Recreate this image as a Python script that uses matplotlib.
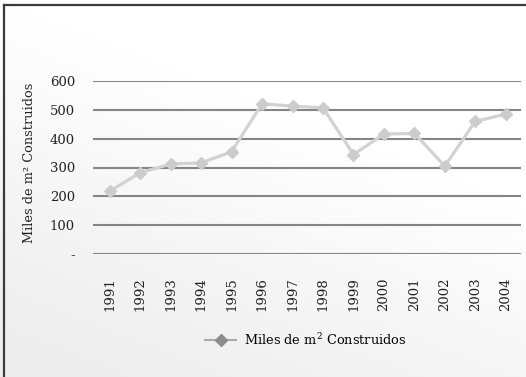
import numpy as np
import matplotlib
matplotlib.use("Agg")
import matplotlib.pyplot as plt
from matplotlib.lines import Line2D

# Superficie construida por año (miles de m2)
years = ["1991", "1992", "1993", "1994", "1995", "1996", "1997",
         "1998", "1999", "2000", "2001", "2002", "2003", "2004"]
built_area = [218, 282, 312, 316, 355, 521, 513, 507, 345, 416, 418, 305, 460, 485]
y_ticks = [0, 100, 200, 300, 400, 500, 600]
y_tick_labels = ["-", "100", "200", "300", "400", "500", "600"]
series_label = "Miles de m$^{2}$ Construidos"
axis_label = "Miles de m² Construidos"

plt.rcParams["font.family"] = ["DejaVu Serif"]
plt.rcParams["mathtext.fontset"] = "dejavuserif"

W, H = 526, 377
fig = plt.figure(figsize=(W / 100, H / 100), dpi=100)

# soft background shading, darker towards the lower left
gx, gy = np.meshgrid(np.linspace(0, 1, W), np.linspace(0, 1, H))
shade = 1.0 - 0.07 * np.clip(gy * 1.1 - gx * 0.6, 0, 1)
fig.figimage(np.dstack([shade] * 3), xo=0, yo=0, origin="upper", zorder=-10)

# frame: only the left and top edges are inside the image
fx, fy = 4 / W, 1 - 5 / H
fig.add_artist(Line2D([fx, fx], [0, fy], transform=fig.transFigure,
                      color="#3a3a3a", linewidth=1.6, solid_capstyle="projecting"))
fig.add_artist(Line2D([fx, 1], [fy, fy], transform=fig.transFigure,
                      color="#3a3a3a", linewidth=1.6, solid_capstyle="projecting"))

ax = fig.add_axes([93 / W, 1 - 254 / H, 428 / W, 173 / H])
ax.patch.set_alpha(0)
x = np.arange(len(years))
ax.plot(x, built_area, color="#d2d2d2", linewidth=2.3, marker="D",
        markersize=6.5, markerfacecolor="#cccccc", markeredgecolor="#cccccc",
        zorder=3, clip_on=False)

ax.set_xlim(-0.55, len(years) - 0.5)
ax.set_ylim(0, 600)
ax.set_yticks(y_ticks)
ax.set_yticklabels(y_tick_labels, fontsize=9.5, color="#222222")
ax.set_xticks(x)
ax.set_xticklabels(years, rotation=90, fontsize=9.5, color="#222222")
ax.tick_params(axis="y", length=0, pad=13)
ax.tick_params(axis="x", length=0, pad=17)
ax.grid(axis="y", color="#858585", linewidth=1.5)
ax.set_axisbelow(True)
for s in ax.spines.values():
    s.set_visible(False)

fig.text(30 / W, 1 - 163 / H, axis_label, rotation=90, ha="center",
         va="center", fontsize=9.3, color="#222222")

handle = Line2D([], [], color="#aaaaaa", linewidth=1.5, marker="D",
                markersize=6, markerfacecolor="#8c8c8c", markeredgecolor="#8c8c8c")
fig.legend([handle], [series_label], loc="center", bbox_to_anchor=(306 / W, 1 - 340 / H),
           frameon=False, fontsize=9.3, handlelength=2.4, handletextpad=0.6)

fig.savefig("out.png", dpi=100)
